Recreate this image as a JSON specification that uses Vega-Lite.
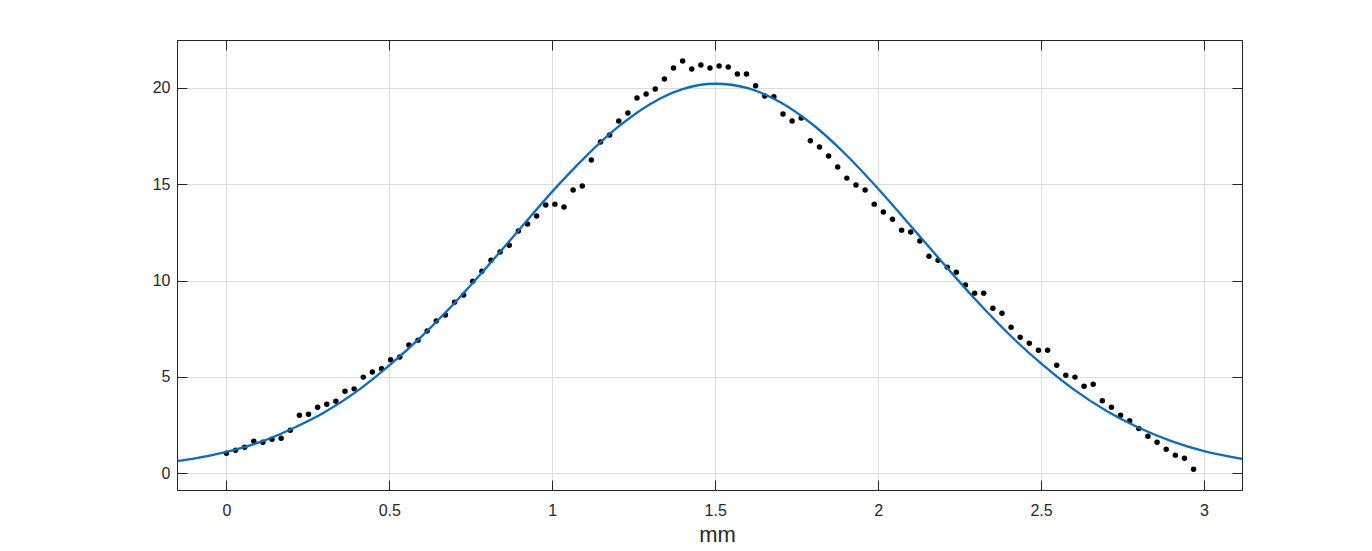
{
  "$schema": "https://vega.github.io/schema/vega-lite/v6.json",
  "width": 1065,
  "height": 450,
  "autosize": {"type": "none"},
  "padding": {"left": 177, "top": 40, "right": 130, "bottom": 61},
  "background": "white",
  "config": {
    "font": "Liberation Sans",
    "view": {"stroke": "#262626", "strokeWidth": 1},
    "axis": {
      "domainColor": "#262626",
      "domainWidth": 1,
      "tickColor": "#262626",
      "tickWidth": 1,
      "tickSize": -10,
      "labelColor": "#262626",
      "labelFontSize": 16,
      "titleColor": "#262626",
      "titleFontWeight": "normal",
      "gridColor": "#dcdcdc",
      "gridWidth": 1
    }
  },
  "datasets": {
    "pts": [
      {"mm": 0.000, "v": 1.04}, {"mm": 0.028, "v": 1.19}, {"mm": 0.056, "v": 1.35}, {"mm": 0.084, "v": 1.66},
      {"mm": 0.112, "v": 1.61}, {"mm": 0.140, "v": 1.77}, {"mm": 0.168, "v": 1.82}, {"mm": 0.196, "v": 2.23},
      {"mm": 0.224, "v": 3.01}, {"mm": 0.252, "v": 3.06}, {"mm": 0.280, "v": 3.43}, {"mm": 0.308, "v": 3.58},
      {"mm": 0.336, "v": 3.74}, {"mm": 0.364, "v": 4.26}, {"mm": 0.392, "v": 4.38}, {"mm": 0.420, "v": 4.99},
      {"mm": 0.448, "v": 5.25}, {"mm": 0.476, "v": 5.42}, {"mm": 0.504, "v": 5.89}, {"mm": 0.532, "v": 6.04},
      {"mm": 0.560, "v": 6.66}, {"mm": 0.588, "v": 6.91}, {"mm": 0.616, "v": 7.38}, {"mm": 0.644, "v": 7.90},
      {"mm": 0.672, "v": 8.21}, {"mm": 0.700, "v": 8.88}, {"mm": 0.728, "v": 9.25}, {"mm": 0.756, "v": 9.97},
      {"mm": 0.784, "v": 10.49}, {"mm": 0.812, "v": 11.06}, {"mm": 0.840, "v": 11.48}, {"mm": 0.868, "v": 11.84},
      {"mm": 0.896, "v": 12.57}, {"mm": 0.924, "v": 12.94}, {"mm": 0.952, "v": 13.35}, {"mm": 0.980, "v": 13.92},
      {"mm": 1.008, "v": 13.97}, {"mm": 1.036, "v": 13.82}, {"mm": 1.064, "v": 14.70}, {"mm": 1.092, "v": 14.91},
      {"mm": 1.120, "v": 16.26}, {"mm": 1.148, "v": 17.19}, {"mm": 1.176, "v": 17.56}, {"mm": 1.204, "v": 18.29},
      {"mm": 1.232, "v": 18.70}, {"mm": 1.260, "v": 19.48}, {"mm": 1.288, "v": 19.69}, {"mm": 1.316, "v": 19.95},
      {"mm": 1.344, "v": 20.47}, {"mm": 1.372, "v": 21.04}, {"mm": 1.400, "v": 21.40}, {"mm": 1.428, "v": 20.99},
      {"mm": 1.456, "v": 21.19}, {"mm": 1.484, "v": 21.04}, {"mm": 1.512, "v": 21.14}, {"mm": 1.540, "v": 21.09},
      {"mm": 1.568, "v": 20.73}, {"mm": 1.596, "v": 20.73}, {"mm": 1.624, "v": 20.12}, {"mm": 1.652, "v": 19.58},
      {"mm": 1.680, "v": 19.55}, {"mm": 1.708, "v": 18.65}, {"mm": 1.736, "v": 18.29}, {"mm": 1.764, "v": 18.44},
      {"mm": 1.792, "v": 17.26}, {"mm": 1.820, "v": 16.94}, {"mm": 1.848, "v": 16.47}, {"mm": 1.876, "v": 15.90},
      {"mm": 1.904, "v": 15.32}, {"mm": 1.932, "v": 14.96}, {"mm": 1.960, "v": 14.70}, {"mm": 1.988, "v": 13.97},
      {"mm": 2.016, "v": 13.56}, {"mm": 2.044, "v": 13.19}, {"mm": 2.072, "v": 12.62}, {"mm": 2.100, "v": 12.52},
      {"mm": 2.128, "v": 12.05}, {"mm": 2.156, "v": 11.27}, {"mm": 2.184, "v": 11.06}, {"mm": 2.212, "v": 10.70},
      {"mm": 2.240, "v": 10.44}, {"mm": 2.268, "v": 9.77}, {"mm": 2.296, "v": 9.35}, {"mm": 2.324, "v": 9.35},
      {"mm": 2.352, "v": 8.57}, {"mm": 2.380, "v": 8.31}, {"mm": 2.408, "v": 7.58}, {"mm": 2.436, "v": 7.06},
      {"mm": 2.464, "v": 6.75}, {"mm": 2.492, "v": 6.39}, {"mm": 2.520, "v": 6.39}, {"mm": 2.548, "v": 5.61},
      {"mm": 2.576, "v": 5.09}, {"mm": 2.604, "v": 4.99}, {"mm": 2.632, "v": 4.52}, {"mm": 2.660, "v": 4.62},
      {"mm": 2.688, "v": 3.76}, {"mm": 2.716, "v": 3.43}, {"mm": 2.744, "v": 3.01}, {"mm": 2.772, "v": 2.72},
      {"mm": 2.800, "v": 2.32}, {"mm": 2.828, "v": 1.92}, {"mm": 2.856, "v": 1.61}, {"mm": 2.884, "v": 1.25},
      {"mm": 2.912, "v": 0.94}, {"mm": 2.940, "v": 0.78}, {"mm": 2.968, "v": 0.21}
    ],
    "fit": [
      {"mm": -0.15, "v": 0.64}, {"mm": -0.1, "v": 0.76}, {"mm": 0.0, "v": 1.11}, {"mm": 0.1, "v": 1.6},
      {"mm": 0.2, "v": 2.3}, {"mm": 0.3, "v": 3.15}, {"mm": 0.4, "v": 4.25}, {"mm": 0.5, "v": 5.6},
      {"mm": 0.6, "v": 7.12}, {"mm": 0.7, "v": 8.84}, {"mm": 0.8, "v": 10.72}, {"mm": 0.9, "v": 12.67},
      {"mm": 1.0, "v": 14.62}, {"mm": 1.1, "v": 16.4}, {"mm": 1.2, "v": 17.95}, {"mm": 1.3, "v": 19.16},
      {"mm": 1.4, "v": 19.94}, {"mm": 1.5, "v": 20.22}, {"mm": 1.6, "v": 19.99}, {"mm": 1.7, "v": 19.26},
      {"mm": 1.8, "v": 18.09}, {"mm": 1.9, "v": 16.56}, {"mm": 2.0, "v": 14.77}, {"mm": 2.1, "v": 12.84},
      {"mm": 2.2, "v": 10.89}, {"mm": 2.3, "v": 8.99}, {"mm": 2.4, "v": 7.24}, {"mm": 2.5, "v": 5.7},
      {"mm": 2.6, "v": 4.35}, {"mm": 2.7, "v": 3.24}, {"mm": 2.8, "v": 2.36}, {"mm": 2.9, "v": 1.67},
      {"mm": 3.0, "v": 1.15}, {"mm": 3.12, "v": 0.74}
    ]
  },
  "resolve": {"axis": {"x": "independent", "y": "independent"}},
  "layer": [
    {
      "data": {"name": "pts"},
      "mark": {"type": "circle", "size": 30, "color": "#000000", "opacity": 1},
      "encoding": {
        "x": {
          "field": "mm", "type": "quantitative",
          "scale": {"domain": [-0.1516, 3.1166], "nice": false, "zero": false},
          "axis": {
            "orient": "bottom", "values": [0, 0.5, 1, 1.5, 2, 2.5, 3], "format": "~g",
            "grid": true, "labelPadding": 22, "title": "mm", "titleFontSize": 22,
            "titleX": 540, "titleY": 51, "titleBaseline": "alphabetic", "titleAnchor": null
          }
        },
        "y": {
          "field": "v", "type": "quantitative",
          "scale": {"domain": [-0.87, 22.49], "nice": false, "zero": false},
          "axis": {
            "orient": "left", "values": [0, 5, 10, 15, 20], "format": "~g",
            "grid": true, "labelPadding": 17, "title": null
          }
        }
      }
    },
    {
      "data": {"name": "fit"},
      "mark": {"type": "line", "color": "#0a6cbc", "strokeWidth": 2.3, "interpolate": "monotone", "clip": true},
      "encoding": {
        "x": {
          "field": "mm", "type": "quantitative",
          "scale": {"domain": [-0.1516, 3.1166], "nice": false, "zero": false},
          "axis": {"orient": "top", "values": [0, 0.5, 1, 1.5, 2, 2.5, 3], "labels": false, "grid": false, "title": null}
        },
        "y": {
          "field": "v", "type": "quantitative",
          "scale": {"domain": [-0.87, 22.49], "nice": false, "zero": false},
          "axis": {"orient": "right", "values": [0, 5, 10, 15, 20], "labels": false, "grid": false, "title": null}
        }
      }
    }
  ]
}
